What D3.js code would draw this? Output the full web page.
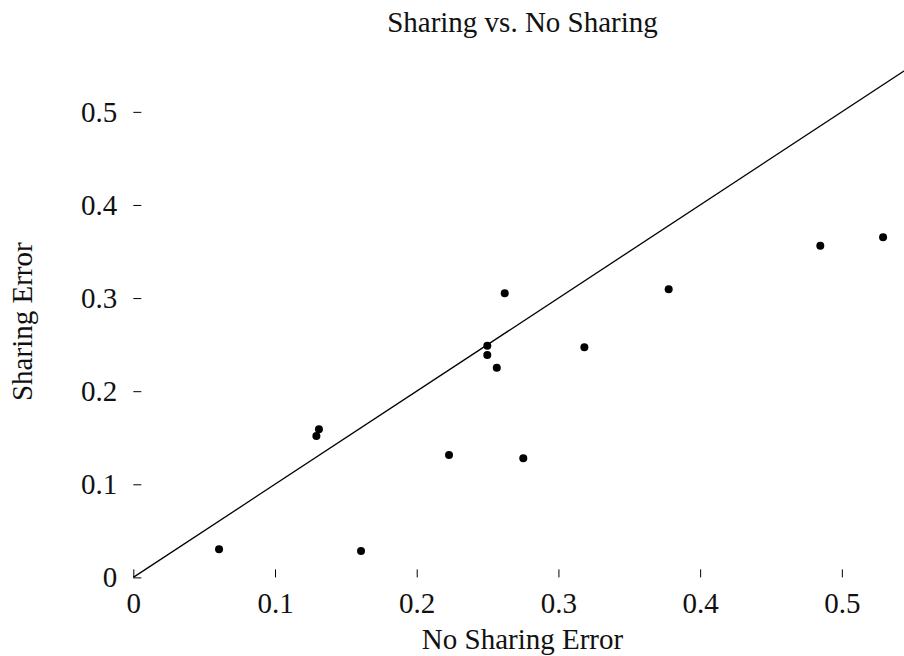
<!DOCTYPE html>
<html>
<head>
<meta charset="utf-8">
<script src="https://cdn.jsdelivr.net/npm/d3@7"></script>
<style>
  html, body { margin: 0; padding: 0; background: #fff; }
  text { font-family: "Liberation Serif", "Times New Roman", serif; fill: #111; }
</style>
</head>
<body>
<div id="chart"></div>
<script>
const width = 904;
const height = 656;

// Data: error with no sharing (x) vs error with sharing (y)
const noSharingError = [0.0605, 0.1607, 0.1310, 0.1292, 0.2228, 0.2752, 0.2498,
  0.2498, 0.2565, 0.2621, 0.3183, 0.3778, 0.4848, 0.5291];
const sharingError = [0.0302, 0.0284, 0.1591, 0.1519, 0.1315, 0.1279, 0.2489,
  0.2389, 0.2252, 0.3052, 0.2471, 0.3094, 0.3563, 0.3653];

const xTicks = [0, 0.1, 0.2, 0.3, 0.4, 0.5];
const xTickLabels = ['0', '0.1', '0.2', '0.3', '0.4', '0.5'];
const yTicks = [0, 0.1, 0.2, 0.3, 0.4, 0.5];
const yTickLabels = ['0', '0.1', '0.2', '0.3', '0.4', '0.5'];

// reference line y = x
const diagonal = [[0, 0], [0.55, 0.55]];

const fontSize = 29;

const svg = d3.select('#chart')
  .append('svg')
    .attr('width', width)
    .attr('height', height);

const x = d3.scaleLinear().domain([0, 0.55]).range([133.3, 912.7]);
const y = d3.scaleLinear().domain([0, 0.55]).range([577.4, 65.3]);

// Axes: inward ticks, no domain line
const xAxis = svg.append('g')
  .attr('transform', `translate(0, ${y(0)})`)
  .call(d3.axisBottom(x)
    .tickValues(xTicks)
    .tickFormat((d, i) => xTickLabels[i])
    .tickSizeInner(-8)
    .tickSizeOuter(0)
    .tickPadding(15));

const yAxis = svg.append('g')
  .attr('transform', `translate(${x(0)}, 0)`)
  .call(d3.axisLeft(y)
    .tickValues(yTicks)
    .tickFormat((d, i) => yTickLabels[i])
    .tickSizeInner(-8)
    .tickSizeOuter(0)
    .tickPadding(16));

svg.selectAll('.domain').remove();
svg.selectAll('.tick line').attr('stroke', '#000').attr('stroke-width', 1);
svg.selectAll('.tick text')
  .attr('font-family', '"Liberation Serif", "Times New Roman", serif')
  .attr('font-size', fontSize)
  .attr('fill', '#111');

// Diagonal
const line = d3.line().x(d => x(d[0])).y(d => y(d[1]));
svg.append('path')
  .datum(diagonal)
  .attr('d', line)
  .attr('fill', 'none')
  .attr('stroke', '#000')
  .attr('stroke-width', 1.3);

// Points
svg.append('g')
  .selectAll('circle')
  .data(noSharingError.map((v, i) => [v, sharingError[i]]))
  .join('circle')
    .attr('cx', d => x(d[0]))
    .attr('cy', d => y(d[1]))
    .attr('r', 4)
    .attr('fill', '#000');

// Titles
svg.append('text')
  .attr('x', 522.5)
  .attr('y', 32)
  .attr('text-anchor', 'middle')
  .attr('font-size', fontSize)
  .text('Sharing vs. No Sharing');

svg.append('text')
  .attr('x', 522.5)
  .attr('y', 649)
  .attr('text-anchor', 'middle')
  .attr('font-size', fontSize)
  .text('No Sharing Error');

svg.append('text')
  .attr('transform', 'translate(32, 321.7) rotate(-90)')
  .attr('text-anchor', 'middle')
  .attr('font-size', fontSize)
  .text('Sharing Error');
</script>
</body>
</html>
